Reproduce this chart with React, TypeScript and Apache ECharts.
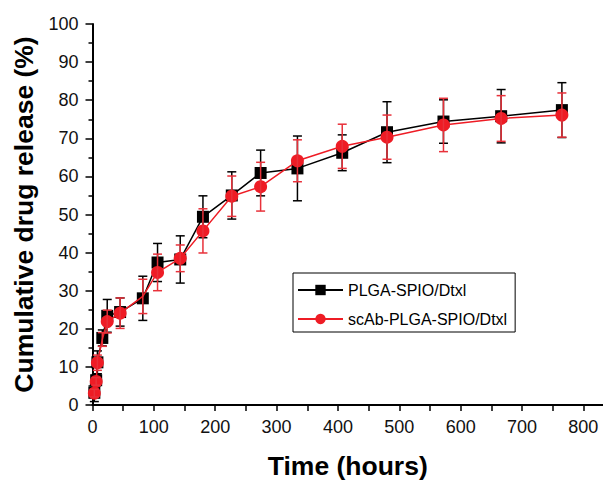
import React, { useEffect, useRef } from "react";
import * as echarts from "echarts";

const timesHours = [3, 6, 8, 16, 24, 45, 82, 106, 143, 180, 227, 274, 334, 407, 480, 572, 666, 765];

const plgaValues = [3.2, 6.5, 11.2, 17.6, 23.4, 24.4, 28.0, 37.4, 38.2, 49.4, 55.0, 60.9, 62.1, 66.2, 71.6, 74.4, 75.8, 77.4];
const plgaErrors = [2.3, 1.5, 3.0, 2.1, 4.3, 3.7, 5.8, 5.0, 6.2, 5.5, 6.2, 6.0, 8.5, 4.7, 8.0, 5.7, 7.0, 7.2];

const scabValues = [3.1, 6.2, 11.1, 17.2, 21.9, 24.1, 28.5, 34.8, 38.5, 45.7, 54.8, 57.3, 64.1, 67.9, 70.3, 73.5, 75.2, 76.1];
const scabErrors = [1.0, 1.0, 2.0, 1.8, 3.0, 4.0, 4.5, 4.8, 3.5, 5.8, 5.3, 6.4, 5.5, 5.8, 5.8, 7.0, 6.0, 5.8];
// points whose red marker is not visible in the reference
const scabHiddenMarkers = [16, 82];

const xLabelValues = [0, 100, 200, 300, 400, 500, 600, 700, 800];
const xTickValues = [0, 50, 100, 150, 200, 250, 300, 350, 400, 450, 500, 550, 600, 650, 700, 750, 800];

const seriesNames = ["PLGA-SPIO/Dtxl", "scAb-PLGA-SPIO/Dtxl"];

const BLACK = "#000000";
const RED = "#ee1c25";
const RED_ERR = "#e8313a";
const FONT = "'Liberation Sans', Arial, Helvetica, sans-serif";

function errorSeries(name: string, values: number[], errors: number[], color: string, z: number) {
  return {
    name,
    type: "custom",
    z,
    silent: true,
    data: timesHours.map((t, i) => [t, values[i], errors[i]]),
    encode: { x: 0, y: 1 },
    renderItem: (params: any, api: any) => {
      const x = api.value(0);
      const y = api.value(1);
      const e = api.value(2);
      const top = api.coord([x, y + e]);
      const bot = api.coord([x, y - e]);
      const hw = 4.5;
      const style = { stroke: color, lineWidth: 1.5 };
      return {
        type: "group",
        children: [
          { type: "line", shape: { x1: top[0], y1: top[1], x2: bot[0], y2: bot[1] }, style },
          { type: "line", shape: { x1: top[0] - hw, y1: top[1], x2: top[0] + hw, y2: top[1] }, style },
          { type: "line", shape: { x1: bot[0] - hw, y1: bot[1], x2: bot[0] + hw, y2: bot[1] }, style },
        ],
      };
    },
  };
}

export default function App() {
  const ref = useRef<HTMLDivElement>(null);
  useEffect(() => {
    if (!ref.current) return;
    const chart = echarts.init(ref.current, undefined, { renderer: "svg" });
    const option: any = {
      animation: false,
      backgroundColor: "#ffffff",
      textStyle: { fontFamily: FONT },
      grid: { left: 92.5, right: 0, top: 24, bottom: 72.5, containLabel: false },
      legend: {
        data: seriesNames,
        orient: "vertical",
        left: 293,
        top: 273,
        width: 219,
        padding: [9, 8, 5, 4],
        itemGap: 13,
        itemWidth: 45,
        itemHeight: 13,
        borderColor: "#000",
        borderWidth: 1,
        borderRadius: 0,
        textStyle: { fontFamily: FONT, fontSize: 16, color: "#000" },
      },
      xAxis: {
        type: "value",
        min: 0,
        max: 832,
        name: "Time (hours)",
        nameLocation: "middle",
        nameGap: 47,
        nameTextStyle: { fontFamily: FONT, fontSize: 26.5, fontWeight: "bold", color: "#000" },
        axisLine: { show: true, onZero: false, lineStyle: { color: "#000", width: 2 } },
        axisTick: { show: true, inside: false, length: 6, customValues: xTickValues, lineStyle: { color: "#000", width: 1.5 } },
        axisLabel: { customValues: xLabelValues, margin: 13, fontFamily: FONT, fontSize: 18, color: "#111" },
        splitLine: { show: false },
      },
      yAxis: {
        type: "value",
        min: 0,
        max: 100,
        interval: 10,
        name: "Cumulative drug release (%)",
        nameLocation: "middle",
        nameGap: 55,
        nameTextStyle: { fontFamily: FONT, fontSize: 26.5, fontWeight: "bold", color: "#000" },
        axisLine: { show: true, onZero: false, lineStyle: { color: "#000", width: 2 } },
        axisTick: { show: true, inside: false, length: 7, lineStyle: { color: "#000", width: 1.5 } },
        minorTick: { show: true, splitNumber: 2, length: 4, lineStyle: { color: "#000", width: 1.5 } },
        axisLabel: { margin: 14, fontFamily: FONT, fontSize: 18, color: "#111" },
        splitLine: { show: false },
      },
      series: [
        {
          name: seriesNames[0],
          type: "line",
          z: 2,
          data: timesHours.map((t, i) => [t, plgaValues[i]]),
          symbol: "rect",
          symbolSize: 12,
          lineStyle: { color: BLACK, width: 1.5 },
          itemStyle: { color: BLACK },
        },
        errorSeries("plga-err", plgaValues, plgaErrors, BLACK, 3),
        {
          name: seriesNames[1],
          type: "line",
          z: 4,
          data: timesHours.map((t, i) =>
            scabHiddenMarkers.includes(t)
              ? { value: [t, scabValues[i]], symbol: "none" }
              : [t, scabValues[i]]
          ),
          symbol: "circle",
          symbolSize: 13,
          lineStyle: { color: RED, width: 1.5 },
          itemStyle: { color: RED },
        },
        errorSeries("scab-err", scabValues, scabErrors, RED_ERR, 5),
      ],
    };
    chart.setOption(option);
    return () => chart.dispose();
  }, []);
  return (
    <div
      ref={ref}
      style={{ position: "fixed", left: 0, top: 0, width: 603, height: 484, background: "#fff" }}
    />
  );
}
